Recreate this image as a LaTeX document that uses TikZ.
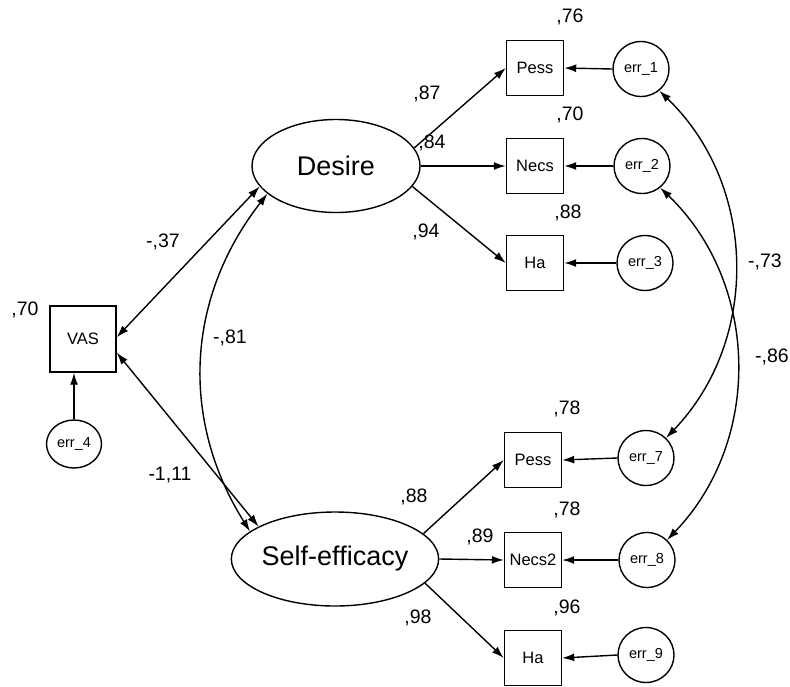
\documentclass[tikz,border=0pt]{standalone}
\usepackage{fontspec}
\setmainfont{Liberation Sans}
\usetikzlibrary{arrows.meta,shapes.geometric}
\begin{document}
\begin{tikzpicture}[x=1pt,y=-1pt,line width=1.4pt,
  latent/.style={draw,ellipse,inner sep=0pt,font=\fontsize{27}{30}\selectfont},
  obs/.style={draw,rectangle,inner sep=0pt,minimum width=57pt,minimum height=55pt,font=\fontsize{16.5}{19}\selectfont},
  errn/.style={draw,ellipse,inner sep=0pt,minimum width=56pt,minimum height=55pt,font=\fontsize{14.5}{17}\selectfont},
  lab/.style={inner sep=0pt,font=\fontsize{19.5}{22}\selectfont},
  arr/.style={-{Latex[length=12pt,width=8pt]}},
  darr/.style={{Latex[length=12pt,width=8pt]}-{Latex[length=12pt,width=8pt]}}]
\useasboundingbox (0,0) rectangle (790,686);
% latent
\node[latent,minimum width=168pt,minimum height=93pt] (desire) at (336,166) {Desire};
\node[latent,minimum width=166pt,minimum height=94pt] (self) at (335,559) {Self-efficacy};
% observed
\node[obs] (pess1) at (535,68) {Pess};
\node[obs] (necs1) at (535,166) {Necs};
\node[obs] (ha1) at (535,263) {Ha};
\node[obs] (pess2) at (533,460) {Pess};
\node[obs] (necs2) at (533,560) {Necs2};
\node[obs] (ha2) at (533,658) {Ha};
\node[obs,minimum width=66pt,minimum height=66pt] (vas) at (83,339) {VAS};
% errors
\node[errn] (e1) at (641,69) {err\_1};
\node[errn] (e2) at (642,166) {err\_2};
\node[errn] (e3) at (645,263) {err\_3};
\node[errn] (e7) at (646,458) {err\_7};
\node[errn] (e8) at (647,560) {err\_8};
\node[errn] (e9) at (646,655) {err\_9};
\node[errn,minimum width=55pt,minimum height=48pt] (e4) at (74,444) {err\_4};
% loadings
\draw[arr] (desire.13) -- (pess1.west);
\draw[arr] (desire.east) -- (necs1.west);
\draw[arr] (desire.-15) -- (ha1.west);
\draw[arr] (self.16) -- (pess2.west);
\draw[arr] (self.east) -- (necs2.west);
\draw[arr] (self.-15) -- (ha2.west);
% errors to indicators
\draw[arr] (e1.west) -- (pess1.east);
\draw[arr] (e2.west) -- (necs1.east);
\draw[arr] (e3.west) -- (ha1.east);
\draw[arr] (e7.west) -- (pess2.east);
\draw[arr] (e8.west) -- (necs2.east);
\draw[arr] (e9.west) -- (ha2.east);
\draw[arr] (e4.north) -- (e4.north |- vas.south);
% covariances
\draw[darr] (vas.3) -- (desire.-165);
\draw[darr] (vas.-22) -- (self.157);
\draw[darr] (desire.-158) to[bend right=35] (self.162);
\draw[darr] (e1.-50) to[bend left=45] (e7.45);
\draw[darr] (e2.-50) to[bend left=45] (e8.45);
% labels
\node[lab] (l76) at (570,17) {,76};
\node[lab] (l70a) at (570,115) {,70};
\node[lab] (l88a) at (568,213) {,88};
\node[lab] (l87) at (427,94) {,87};
\node[lab] (l84) at (432,143) {,84};
\node[lab] (l94) at (426,232) {,94};
\node[lab] (l78a) at (567,409) {,78};
\node[lab] (l78b) at (567,510) {,78};
\node[lab] (l96) at (567,608) {,96};
\node[lab] (l88b) at (414,497) {,88};
\node[lab] (l89) at (480,537) {,89};
\node[lab] (l98) at (418,618) {,98};
\node[lab] (l70b) at (25,310) {,70};
\node[lab] (l37) at (163,242) {-,37};
\node[lab] (l81) at (230,338) {-,81};
\node[lab] (l111) at (170,475) {-1,11};
\node[lab] (l73) at (765,262) {-,73};
\node[lab] (l86) at (772,357) {-,86};
\end{tikzpicture}
\end{document}
